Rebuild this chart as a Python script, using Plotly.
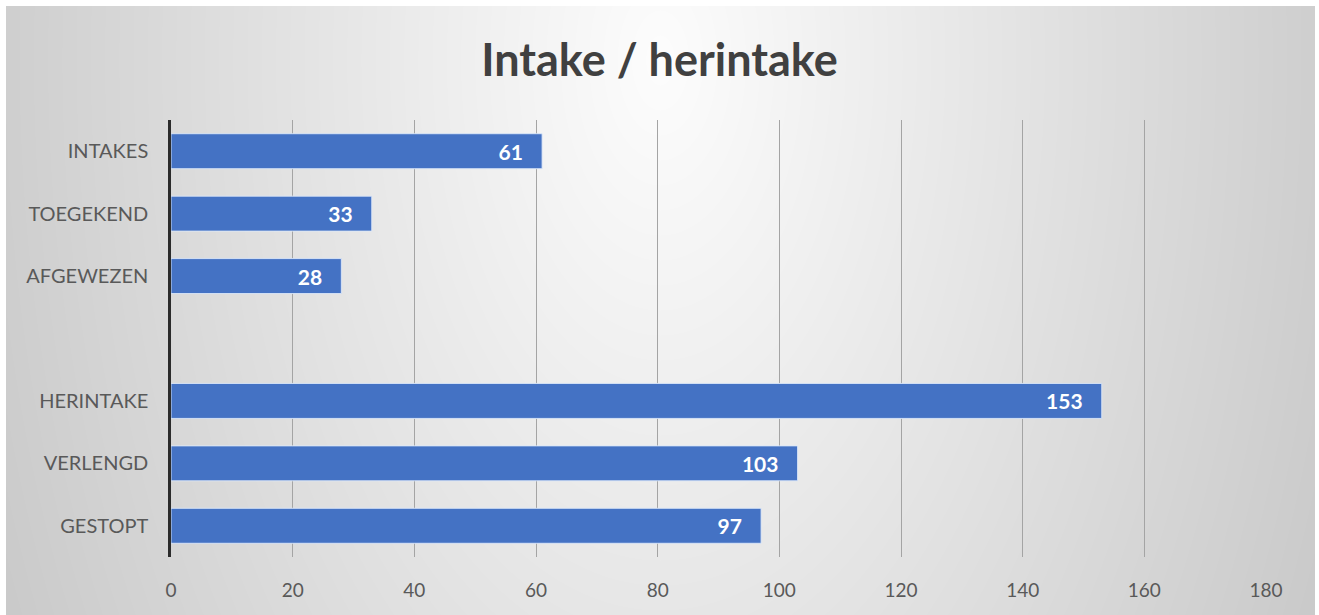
import base64
import struct
import zlib

import numpy as np
import plotly.graph_objects as go

# ---------------- data ----------------
categories = ["INTAKES", "TOEGEKEND", "AFGEWEZEN", " ", "HERINTAKE", "VERLENGD", "GESTOPT"]
values = [61, 33, 28, None, 153, 103, 97]
x_ticks = [0, 20, 40, 60, 80, 100, 120, 140, 160, 180]
title_text = "Intake / herintake"

# ---------------- layout geometry ----------------
W, H = 1319, 615
L, R, T, B = 171, 53, 120, 58
plot_w = W - L - R
plot_h = H - T - B

# radial gradient background (chart area 6..1315 x 6..615)
bg_x0, bg_y0, bg_x1, bg_y1 = 6, 6, 1315, 615
bw, bh = bg_x1 - bg_x0, bg_y1 - bg_y0
yy, xx = np.mgrid[0:bh, 0:bw].astype(float)
px = xx + bg_x0
py = yy + bg_y0
d = np.sqrt(((px - 660) / 655.0) ** 2 + ((py - 60) / 1150.0) ** 2)
img = np.clip(253 - 46 * d, 195, 255).astype(np.uint8)


def png_uri(arr):
    h, w = arr.shape
    raw = b"".join(b"\x00" + arr[i].tobytes() for i in range(h))

    def chunk(tag, data):
        c = struct.pack(">I", len(data)) + tag + data
        return c + struct.pack(">I", zlib.crc32(tag + data) & 0xFFFFFFFF)

    png = b"\x89PNG\r\n\x1a\n"
    png += chunk(b"IHDR", struct.pack(">IIBBBBB", w, h, 8, 0, 0, 0, 0))
    png += chunk(b"IDAT", zlib.compress(raw, 9))
    png += chunk(b"IEND", b"")
    return "data:image/png;base64," + base64.b64encode(png).decode()


FONT = "Lato"
NBSP = "\u00a0"

fig = go.Figure()
fig.add_trace(
    go.Bar(
        y=categories,
        x=values,
        orientation="h",
        width=0.56,
        marker=dict(color="#4472C4", line=dict(color="rgba(220,232,250,0.9)", width=1)),
        text=[("<b>%d</b>" % v + NBSP * 3) if v is not None else "" for v in values],
        textposition="inside",
        insidetextanchor="end",
        textangle=0,
        textfont=dict(color="white", size=21, family=FONT),
        cliponaxis=False,
        hoverinfo="skip",
    )
)

fig.update_layout(
    width=W,
    height=H,
    margin=dict(l=L, r=R, t=T, b=B, pad=0),
    paper_bgcolor="white",
    plot_bgcolor="rgba(0,0,0,0)",
    showlegend=False,
    title=dict(
        text="<b>%s</b>" % title_text,
        x=0.5,
        xanchor="center",
        y=1 - 60 / H,
        yanchor="middle",
        font=dict(family=FONT, size=45, color="#404040"),
    ),
    images=[
        dict(
            source=png_uri(img),
            xref="paper",
            yref="paper",
            x=(bg_x0 - L) / plot_w,
            y=(H - B - bg_y0) / plot_h,
            sizex=bw / plot_w,
            sizey=bh / plot_h,
            xanchor="left",
            yanchor="top",
            sizing="stretch",
            layer="below",
        )
    ],
    xaxis=dict(
        range=[0, 180],
        tickvals=x_ticks,
        ticktext=[str(t) for t in x_ticks],
        showgrid=True,
        gridcolor="#a4a4a4",
        gridwidth=1.3,
        zeroline=False,
        showline=False,
        ticks="",
        ticklabelstandoff=20,
        tickfont=dict(family=FONT, size=19, color="#595959"),
        fixedrange=True,
    ),
    yaxis=dict(
        type="category",
        categoryorder="array",
        categoryarray=categories,
        autorange="reversed",
        showgrid=False,
        zeroline=False,
        showline=True,
        linecolor="#2b2b2b",
        linewidth=2.5,
        ticks="",
        ticklabelstandoff=16,
        tickfont=dict(family=FONT, size=20, color="#595959"),
        fixedrange=True,
    ),
    bargap=0.44,
)

fig.write_html(
    "out.html",
    config={"displayModeBar": False},
    post_script="document.body.style.margin='0';document.body.style.overflow='hidden';",
)
